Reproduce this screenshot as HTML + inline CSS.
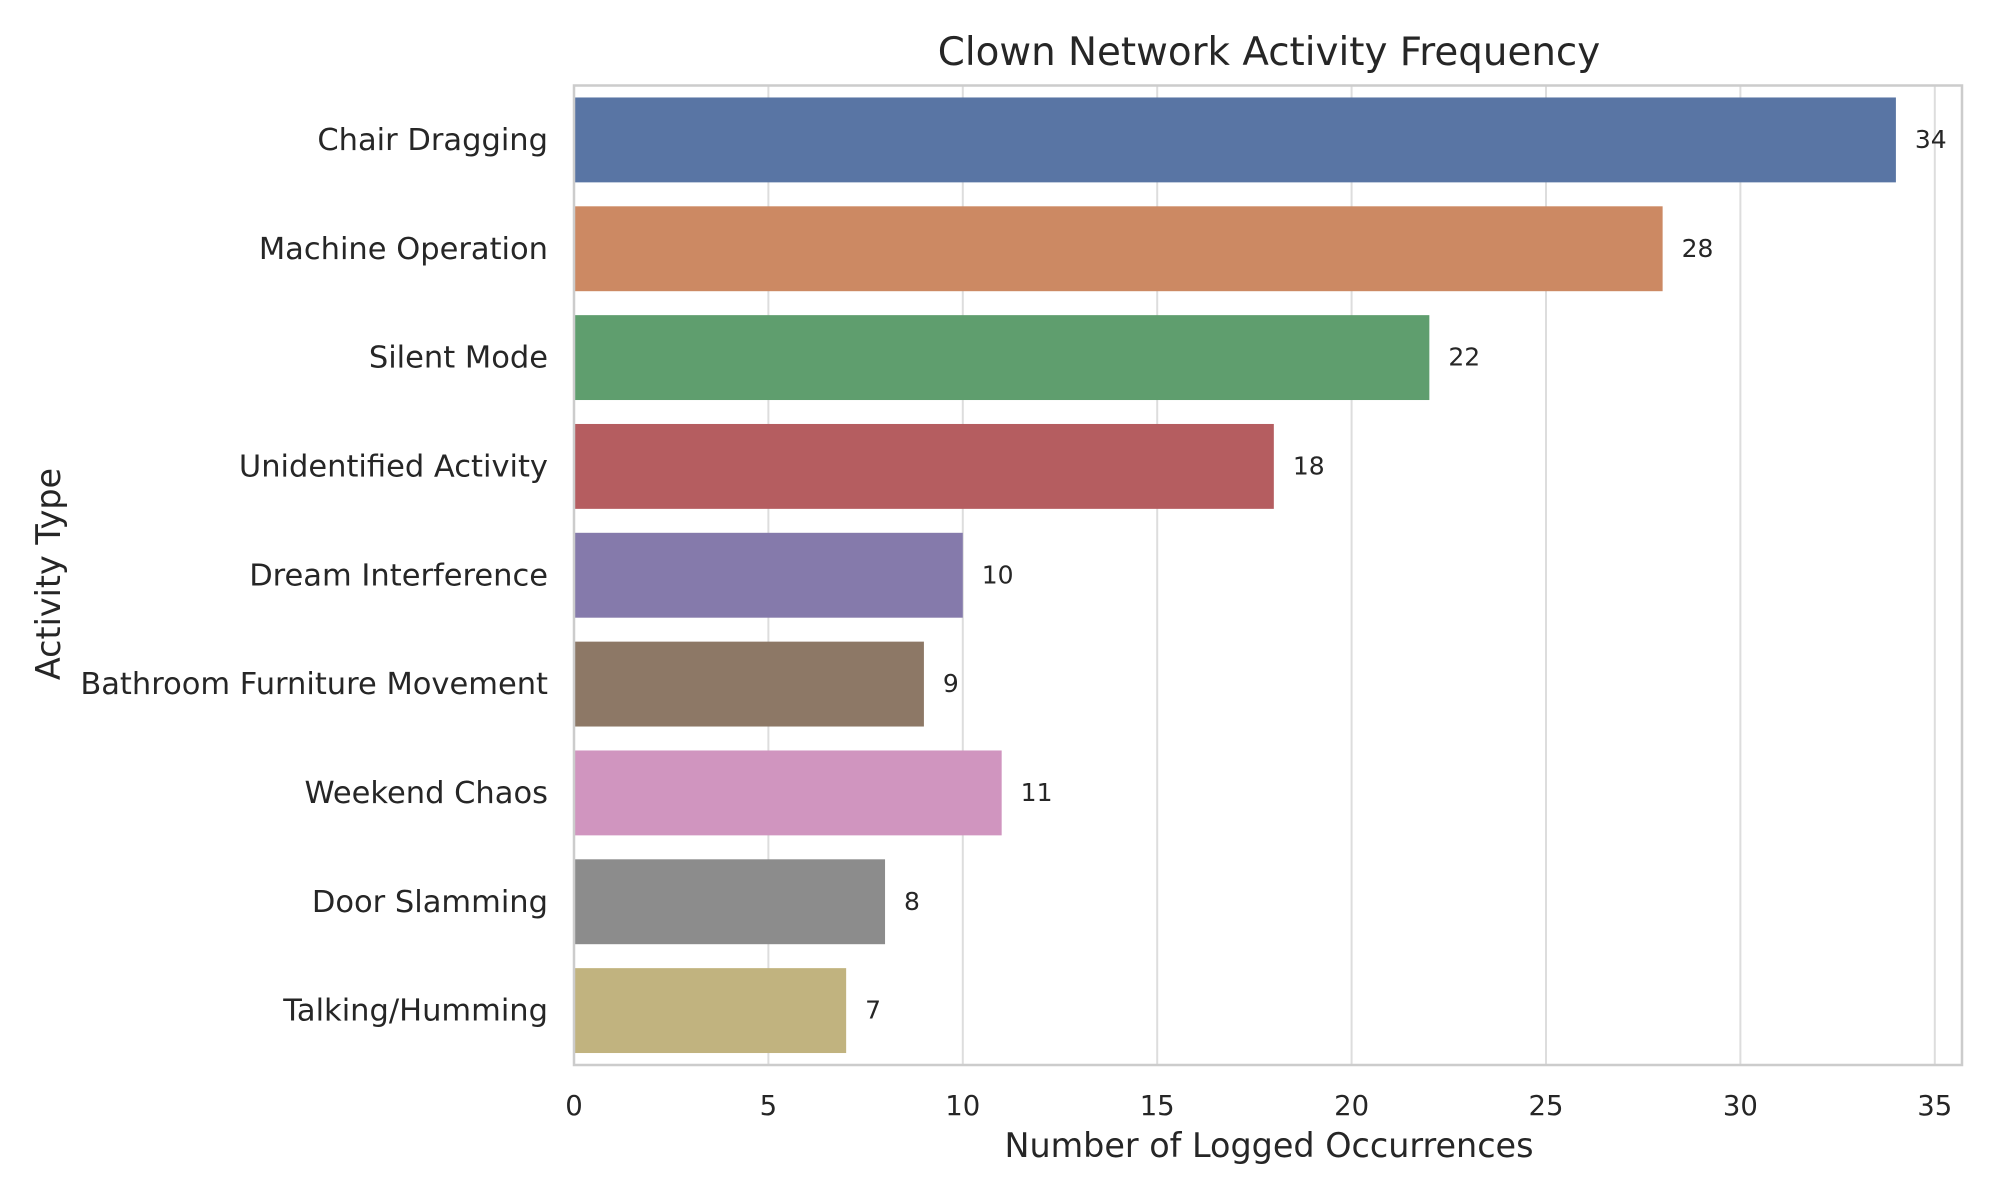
<!DOCTYPE html>
<html><head><meta charset="utf-8"><style>
html,body{margin:0;padding:0;background:#fff;}
svg{display:block;font-family:"DejaVu Sans","Liberation Sans",sans-serif;}
</style></head><body>
<svg id="chart" width="2000" height="1200" viewBox="0 0 2000 1200">
<rect x="0" y="0" width="2000" height="1200" fill="#fff"/>
<g id="grid"></g>
<g id="bars"></g>
<rect x="574" y="85.5" width="1388" height="979.5" fill="none" stroke="#cccccc" stroke-width="2.5"/>
<g id="xticks"></g>
<g id="ylabels"></g>
<text x="1269" y="65" text-anchor="middle" font-size="38.8" fill="#262626">Clown Network Activity Frequency</text>
<text x="1269" y="1157" text-anchor="middle" font-size="33.4" fill="#262626">Number of Logged Occurrences</text>
<text x="0" y="0" transform="translate(60,574) rotate(-90)" text-anchor="middle" font-size="33.4" fill="#262626">Activity Type</text>
</svg>
<script>
const categories = ["Chair Dragging","Machine Operation","Silent Mode","Unidentified Activity","Dream Interference","Bathroom Furniture Movement","Weekend Chaos","Door Slamming","Talking/Humming"];
const values = [34,28,22,18,10,9,11,8,7];
const xTicks = [0,5,10,15,20,25,30,35];
const colors = ["#5975a4","#cc8963","#5f9e6e","#b55d60","#857aab","#8d7866","#d095bf","#8c8c8c","#c1b37f"];
const NS="http://www.w3.org/2000/svg";
const L=574,R=1962,T=85.5,B=1065,XMAX=35.7;
const xs=v=>L+(v/XMAX)*(R-L);
const band=(B-T)/categories.length;
const yc=i=>T+band*(i+0.5);
function mk(tag,attrs,parent){const e=document.createElementNS(NS,tag);for(const k in attrs)e.setAttribute(k,attrs[k]);parent.appendChild(e);return e;}
const grid=document.getElementById('grid'),bars=document.getElementById('bars'),xt=document.getElementById('xticks'),yl=document.getElementById('ylabels');
xTicks.forEach(t=>{
  const g=mk('line',{x1:xs(t),x2:xs(t),y1:T,y2:B,stroke:'#dddddd','stroke-width':2},grid);
  
  
  const tx=mk('text',{x:xs(t),y:1115,'text-anchor':'middle','font-size':27.5,fill:'#262626'},xt);
  tx.textContent=t;
  
  
});
categories.forEach((c,i)=>{
  const h=band*0.78;
  const r=mk('rect',{x:xs(0),y:yc(i)-h/2,width:xs(values[i])-xs(0),height:h,fill:colors[i]},bars);
  
  
  const v=mk('text',{x:xs(values[i])+19,y:yc(i)+8,'font-size':25,fill:'#262626'},bars);
  v.textContent=values[i];
  
  
  const lb=mk('text',{x:L-26,y:yc(i)+10,'text-anchor':'end','font-size':30.5,fill:'#262626'},yl);
  lb.textContent=c;
  
  
});
</script>
</body></html>
